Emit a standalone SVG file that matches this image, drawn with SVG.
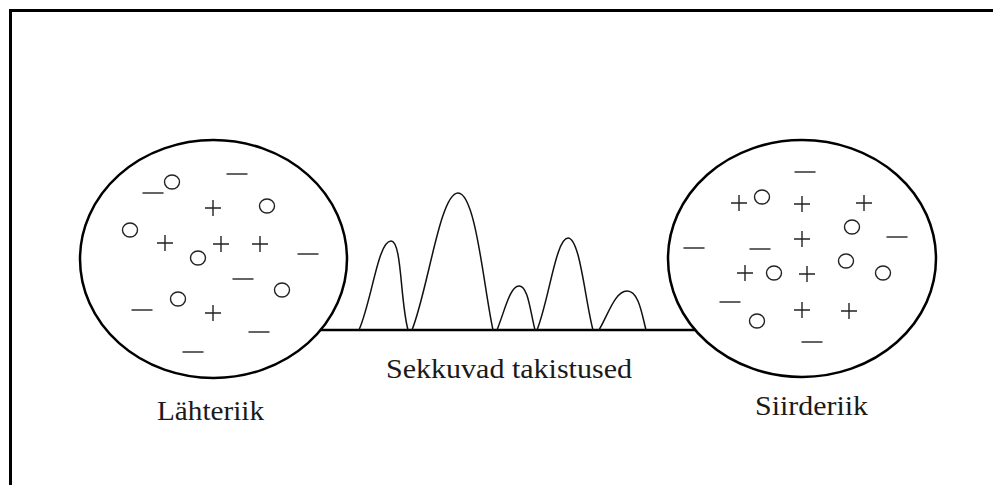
<svg xmlns="http://www.w3.org/2000/svg" width="993" height="485" viewBox="0 0 993 485">
<style>
.big{fill:none;stroke:#000;stroke-width:2.5}
.sym{fill:none;stroke:#222;stroke-width:1.4}
.peak{fill:none;stroke:#111;stroke-width:1.5}
.lbl{font-family:"Liberation Serif","Times New Roman",serif;font-size:28px;fill:#1a1a1a}
</style>
<defs>
<path id="plus" class="sym" d="M-8,0H8M0,-8V8"/>
<path id="minus" class="sym" d="M-10.5,0H10.5"/>
<ellipse id="o" class="sym" rx="7.5" ry="7"/>
</defs>
<rect width="993" height="485" fill="#fff"/>
<path d="M10.5,490V10.5H1000" fill="none" stroke="#000" stroke-width="3"/>

<g id="connectors">
<line x1="320" y1="330" x2="696" y2="330" stroke="#000" stroke-width="2.5"/>
</g>

<g id="barriers">
<path class="peak" d="M359,330 C372,300 378,241 391,241 C402,241 400,300 408,330"/>
<path class="peak" d="M412,330 C428,290 440,193 458,193 C476,193 484,290 493,330"/>
<path class="peak" d="M497,330 C505,310 510,286 519,286 C528,286 530,310 535,330"/>
<path class="peak" d="M537,330 C549,300 556,238 568,238 C580,238 585,300 593,330"/>
<path class="peak" d="M599,330 C608,315 615,291 627,291 C639,291 642,315 646,330"/>
</g>

<g id="lahteriik">
<ellipse class="big" cx="213.5" cy="259" rx="133.5" ry="119"/>
<use href="#o" x="172" y="182"/>
<use href="#o" x="267" y="206"/>
<use href="#o" x="130" y="230"/>
<use href="#o" x="198" y="258"/>
<use href="#o" x="178" y="299"/>
<use href="#o" x="282" y="290"/>
<use href="#minus" x="153" y="193"/>
<use href="#minus" x="237" y="174"/>
<use href="#minus" x="308" y="254"/>
<use href="#minus" x="243" y="279"/>
<use href="#minus" x="142" y="310"/>
<use href="#minus" x="259" y="332"/>
<use href="#minus" x="193" y="352"/>
<use href="#plus" x="213" y="208"/>
<use href="#plus" x="165" y="243"/>
<use href="#plus" x="221" y="244"/>
<use href="#plus" x="260" y="244"/>
<use href="#plus" x="213" y="313"/>
<text class="lbl" x="157" y="420" textLength="107" lengthAdjust="spacingAndGlyphs">Lähteriik</text>
</g>

<g id="siirderiik">
<ellipse class="big" cx="802" cy="258.5" rx="134" ry="118.5"/>
<use href="#o" x="762" y="197"/>
<use href="#o" x="852" y="227"/>
<use href="#o" x="846" y="261"/>
<use href="#o" x="774" y="273"/>
<use href="#o" x="883" y="273"/>
<use href="#o" x="757" y="321"/>
<use href="#minus" x="805" y="172"/>
<use href="#minus" x="694" y="248"/>
<use href="#minus" x="760" y="249"/>
<use href="#minus" x="897" y="237"/>
<use href="#minus" x="730" y="302"/>
<use href="#minus" x="812" y="342"/>
<use href="#plus" x="739" y="203"/>
<use href="#plus" x="802" y="204"/>
<use href="#plus" x="864" y="203"/>
<use href="#plus" x="802" y="239"/>
<use href="#plus" x="745" y="273"/>
<use href="#plus" x="807" y="274"/>
<use href="#plus" x="802" y="310"/>
<use href="#plus" x="849" y="311"/>
<text class="lbl" x="755" y="415" textLength="113" lengthAdjust="spacingAndGlyphs">Siirderiik</text>
</g>

<g id="label-barriers">
<text class="lbl" x="386" y="378" textLength="246" lengthAdjust="spacingAndGlyphs">Sekkuvad takistused</text>
</g>
</svg>
